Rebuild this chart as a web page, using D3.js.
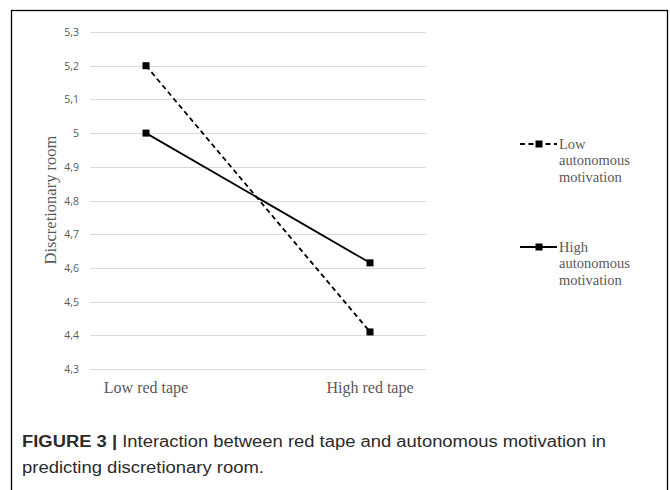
<!DOCTYPE html>
<html>
<head>
<meta charset="utf-8">
<script src="https://cdn.jsdelivr.net/npm/d3@7"></script>
<style>
  body { margin: 0; background: #fff; }
</style>
</head>
<body>
<script>
// data
var categories = ["Low red tape", "High red tape"];
var lowMotivation = [5.2, 4.41];
var highMotivation = [5.0, 4.615];
var yTicks = [4.3, 4.4, 4.5, 4.6, 4.7, 4.8, 4.9, 5.0, 5.1, 5.2, 5.3];
var seriesNames = [["Low", "autonomous", "motivation"], ["High", "autonomous", "motivation"]];

var svg = d3.select("body").append("svg")
            .attr("width", 670)
            .attr("height", 490);

// frame around figure
svg.append("rect")
   .attr("x", 11.5).attr("y", 10.5)
   .attr("width", 656).attr("height", 500)
   .attr("fill", "none")
   .attr("stroke", "#000")
   .attr("stroke-width", 1.3);

var x = d3.scalePoint().domain(categories).range([90, 426]).padding(0.25);
var y = d3.scaleLinear().domain([4.3, 5.3]).range([369, 32]);

// gridlines
svg.selectAll("line.grid")
   .data(yTicks)
   .enter()
   .append("line")
   .attr("class", "grid")
   .attr("x1", 90).attr("x2", 426)
   .attr("y1", function (d) { return Math.round(y(d)) + 0.5; })
   .attr("y2", function (d) { return Math.round(y(d)) + 0.5; })
   .attr("stroke", "#d9d9d9")
   .attr("stroke-width", 1.2);

// y tick labels
svg.selectAll("text.ytick")
   .data(yTicks)
   .enter()
   .append("text")
   .attr("class", "ytick")
   .attr("x", 79)
   .attr("y", function (d) { return y(d) + 4; })
   .attr("text-anchor", "end")
   .attr("font-family", "Open Sans, sans-serif")
   .attr("font-size", "10.5px")
   .attr("fill", "#595959")
   .text(function (d) { return d3.format(".1f")(d).replace(".", ",").replace(",0", ""); });

// category labels
svg.selectAll("text.xcat")
   .data(categories)
   .enter()
   .append("text")
   .attr("class", "xcat")
   .attr("x", function (d) { return x(d); })
   .attr("y", 393)
   .attr("text-anchor", "middle")
   .attr("font-family", "Liberation Serif, serif")
   .attr("font-size", "16px")
   .attr("fill", "#595959")
   .text(function (d) { return d; });

// y axis title
svg.append("text")
   .attr("transform", "translate(56,200) rotate(-90)")
   .attr("text-anchor", "middle")
   .attr("font-family", "Liberation Serif, serif")
   .attr("font-size", "16.5px")
   .attr("fill", "#595959")
   .text("Discretionary room");

var line = d3.line()
             .x(function (d, i) { return x(categories[i]); })
             .y(function (d) { return y(d); });

var series = [
  { values: lowMotivation, dash: "5,3.5" },
  { values: highMotivation, dash: null }
];

series.forEach(function (s) {
  svg.append("path")
     .attr("d", line(s.values))
     .attr("fill", "none")
     .attr("stroke", "#000")
     .attr("stroke-width", 1.8)
     .attr("stroke-dasharray", s.dash);
  svg.selectAll(null)
     .data(s.values)
     .enter()
     .append("rect")
     .attr("x", function (d, i) { return x(categories[i]) - 3.5; })
     .attr("y", function (d) { return y(d) - 3.5; })
     .attr("width", 7).attr("height", 7)
     .attr("fill", "#000");
});

// legend
var legendY = [144, 247];
series.forEach(function (s, i) {
  var ly = legendY[i];
  svg.append("line")
     .attr("x1", 520).attr("x2", 557)
     .attr("y1", ly).attr("y2", ly)
     .attr("stroke", "#000")
     .attr("stroke-width", 1.8)
     .attr("stroke-dasharray", s.dash);
  svg.append("rect")
     .attr("x", 535.5).attr("y", ly - 3.5)
     .attr("width", 7).attr("height", 7)
     .attr("fill", "#000");
  svg.selectAll(null)
     .data(seriesNames[i])
     .enter()
     .append("text")
     .attr("x", 559)
     .attr("y", function (d, j) { return ly + 4.5 + j * 16.5; })
     .attr("font-family", "Liberation Serif, serif")
     .attr("font-size", "14.5px")
     .attr("fill", "#595959")
     .text(function (d) { return d; });
});

// caption
var cap1 = svg.append("text")
   .attr("x", 22).attr("y", 447)
   .attr("font-family", "Liberation Sans, Arial, sans-serif")
   .attr("font-size", "16px")
   .attr("fill", "#2b2b2b")
   .attr("textLength", 584)
   .attr("lengthAdjust", "spacingAndGlyphs");
cap1.append("tspan").attr("font-weight", "bold").text("FIGURE 3 |");
cap1.append("tspan").text(" Interaction between red tape and autonomous motivation in");

svg.append("text")
   .attr("x", 22).attr("y", 473)
   .attr("font-family", "Liberation Sans, Arial, sans-serif")
   .attr("font-size", "16px")
   .attr("fill", "#2b2b2b")
   .attr("textLength", 242)
   .attr("lengthAdjust", "spacingAndGlyphs")
   .text("predicting discretionary room.");
</script>
</body>
</html>
